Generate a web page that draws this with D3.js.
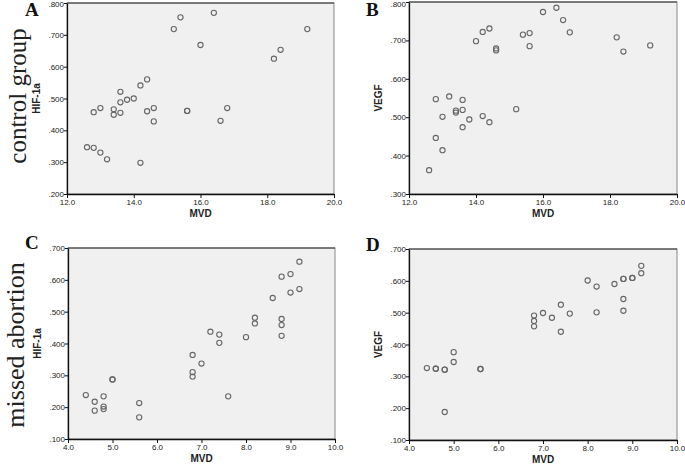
<!DOCTYPE html>
<html><head><meta charset="utf-8">
<script src="https://cdn.jsdelivr.net/npm/d3@7"></script>
<style>body{margin:0;background:#fff}svg{display:block}</style>
</head><body>
<svg id="c" width="685" height="464"></svg>
<script>
// Panel A: control group, MVD vs HIF-1a
const mvdA = [12.6,12.8,13.0,13.2,14.2,12.8,13.0,13.4,13.4,13.6,13.6,13.6,13.8,14.0,14.2,14.4,14.4,14.6,14.6,15.2,15.4,15.6,15.6,16.0,16.4,16.6,16.8,18.2,18.4,19.2];
const hifA = [0.347,0.345,0.330,0.309,0.298,0.457,0.470,0.466,0.449,0.455,0.488,0.521,0.496,0.500,0.541,0.560,0.460,0.470,0.428,0.718,0.755,0.461,0.461,0.668,0.769,0.430,0.470,0.625,0.653,0.718];
// Panel B: control group, MVD vs VEGF
const mvdB = [12.6,12.8,12.8,13.0,13.0,13.2,13.4,13.4,13.6,13.6,13.6,13.8,14.0,14.2,14.2,14.4,14.4,14.6,14.6,15.2,15.4,15.6,15.6,16.0,16.4,16.6,16.8,18.2,18.4,19.2];
const vegfB = [0.362,0.446,0.547,0.414,0.501,0.554,0.517,0.512,0.545,0.519,0.474,0.494,0.698,0.722,0.503,0.731,0.487,0.679,0.674,0.521,0.715,0.719,0.685,0.774,0.785,0.753,0.721,0.708,0.671,0.687];
// Panel C: missed abortion, MVD vs HIF-1a
const mvdC = [4.4,4.6,4.6,4.8,4.8,4.8,5.0,5.0,5.6,5.6,6.8,6.8,6.8,7.0,7.2,7.4,7.4,7.6,8.0,8.2,8.2,8.6,8.8,8.8,8.8,8.8,9.0,9.0,9.2,9.2];
const hifC = [0.238,0.217,0.189,0.234,0.202,0.194,0.287,0.287,0.213,0.168,0.364,0.310,0.296,0.337,0.437,0.428,0.402,0.234,0.420,0.481,0.463,0.543,0.610,0.477,0.458,0.424,0.618,0.560,0.657,0.571];
// Panel D: missed abortion, MVD vs VEGF
const mvdD = [4.4,4.6,4.6,4.8,4.8,4.8,5.0,5.0,5.6,5.6,6.8,6.8,6.8,7.0,7.2,7.4,7.4,7.6,8.0,8.2,8.2,8.6,8.8,8.8,8.8,8.8,9.0,9.0,9.2,9.2];
const vegfD = [0.326,0.324,0.324,0.321,0.321,0.188,0.376,0.345,0.323,0.323,0.491,0.474,0.457,0.499,0.484,0.525,0.440,0.497,0.601,0.582,0.501,0.590,0.606,0.606,0.543,0.506,0.609,0.609,0.647,0.624];

const xTicksTop = [12,14,16,18,20];
const xTicksBot = [4,5,6,7,8,9,10];
const yTicksA = [0.2,0.3,0.4,0.5,0.6,0.7,0.8];
const yTicksB = [0.3,0.4,0.5,0.6,0.7,0.8];
const yTicksCD = [0.1,0.2,0.3,0.4,0.5,0.6,0.7];

const panels = [
  {letter:"A", xs:mvdA, ys:hifA, xdom:[12,20], ydom:[0.2,0.8], xt:xTicksTop, yt:yTicksA, ylab:"HIF-1a", box:[67,3,334,194], lx:25, ly:16},
  {letter:"B", xs:mvdB, ys:vegfB, xdom:[12,20], ydom:[0.3,0.8], xt:xTicksTop, yt:yTicksB, ylab:"VEGF", box:[409,2,677,194], lx:366, ly:16},
  {letter:"C", xs:mvdC, ys:hifC, xdom:[4,10], ydom:[0.1,0.7], xt:xTicksBot, yt:yTicksCD, ylab:"HIF-1a", box:[68,248,335,439], lx:25, ly:249},
  {letter:"D", xs:mvdD, ys:vegfD, xdom:[4,10], ydom:[0.1,0.7], xt:xTicksBot, yt:yTicksCD, ylab:"VEGF", box:[409,249,677,440], lx:366, ly:251}
];

const svg = d3.select("#c");
const sans = "Arial, 'Liberation Sans', sans-serif";
const serif = "'Liberation Serif', 'Times New Roman', serif";

panels.forEach(p => {
  const [x0,y0,x1,y1] = p.box;
  const x = d3.scaleLinear().domain(p.xdom).range([x0,x1]);
  const y = d3.scaleLinear().domain(p.ydom).range([y1,y0]);
  const g = svg.append("g");
  g.append("rect").attr("x",x0).attr("y",y0).attr("width",x1-x0).attr("height",y1-y0)
    .attr("fill","#f0f0f0").attr("stroke","#888").attr("stroke-width",1);
  g.append("line").attr("x1",x0).attr("x2",x1).attr("y1",y0).attr("y2",y0).attr("stroke","#333");

  const xa = g.append("g").attr("transform",`translate(0,${y1})`)
    .call(d3.axisBottom(x).tickValues(p.xt).tickFormat(d3.format(".1f")).tickSize(4).tickSizeOuter(0));
  const ya = g.append("g").attr("transform",`translate(${x0},0)`)
    .call(d3.axisLeft(y).tickValues(p.yt).tickFormat(d => d3.format(".3f")(d).replace(/^0/,"")).tickSize(3).tickSizeOuter(0));
  [xa,ya].forEach(a => {
    a.select(".domain").attr("stroke","#111").attr("stroke-width",1.3);
    a.selectAll(".tick line").attr("stroke","#111");
    a.selectAll("text").attr("font-family",sans).attr("font-size",8).attr("fill","#222");
  });
  xa.selectAll("text").attr("dy","0.6em").attr("y",6);
  ya.selectAll("text").attr("x",-3)
    .attr("dy", d => (y(d) < 5 ? "0.75em" : "0.32em"))
    .attr("transform", d => (y(d) < 5 ? `translate(0,${-y(d)})` : null));

  g.append("text").attr("x",(x0+x1)/2).attr("y",y1+23).attr("text-anchor","middle")
    .attr("font-family",sans).attr("font-weight","bold").attr("font-size",10).attr("fill","#222").text("MVD");
  g.append("text").attr("transform",`translate(${x0-27},${(y0+y1)/2}) rotate(-90)`).attr("text-anchor","middle")
    .attr("font-family",sans).attr("font-weight","bold").attr("font-size",10).attr("fill","#222").text(p.ylab);

  g.append("text").attr("x",p.lx).attr("y",p.ly).attr("font-family",serif)
    .attr("font-weight","bold").attr("font-size",19).attr("fill","#111").text(p.letter);

  g.selectAll("circle.pt").data(p.xs.map((v,i)=>[v,p.ys[i]])).join("circle").attr("class","pt")
    .attr("cx",d=>x(d[0])).attr("cy",d=>y(d[1])).attr("r",2.6)
    .attr("fill","none").attr("stroke","#666").attr("stroke-width",1.1);
});

svg.append("text").attr("transform","translate(26,96) rotate(-90)").attr("text-anchor","middle")
  .attr("font-family",serif).attr("font-size",25).attr("fill","#222").text("control group");
svg.append("text").attr("transform","translate(24,345) rotate(-90)").attr("text-anchor","middle")
  .attr("font-family",serif).attr("font-size",26).attr("fill","#222").text("missed abortion");
</script>
</body></html>
